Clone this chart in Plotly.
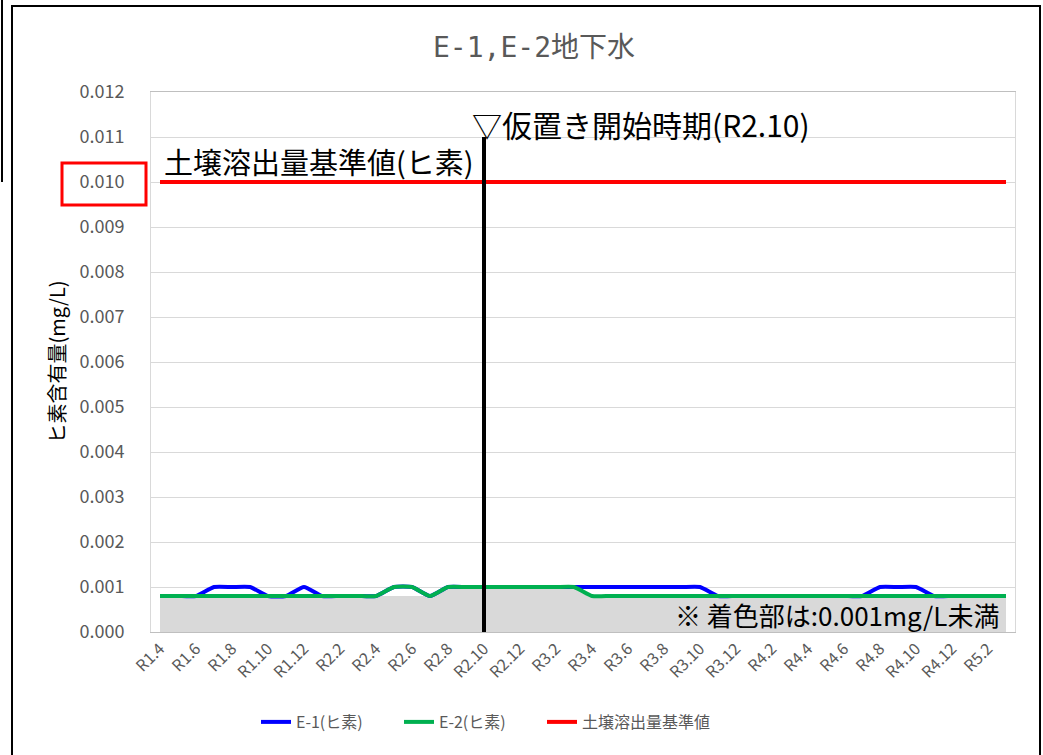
import plotly.graph_objects as go

# Sampling months (Reiwa year.month), one point per month
months = [
    "R1.4", "R1.5", "R1.6", "R1.7", "R1.8", "R1.9", "R1.10", "R1.11", "R1.12",
    "R2.1", "R2.2", "R2.3", "R2.4", "R2.5", "R2.6", "R2.7", "R2.8", "R2.9",
    "R2.10", "R2.11", "R2.12",
    "R3.1", "R3.2", "R3.3", "R3.4", "R3.5", "R3.6", "R3.7", "R3.8", "R3.9",
    "R3.10", "R3.11", "R3.12",
    "R4.1", "R4.2", "R4.3", "R4.4", "R4.5", "R4.6", "R4.7", "R4.8", "R4.9",
    "R4.10", "R4.11", "R4.12",
    "R5.1", "R5.2", "R5.3",
]

# Arsenic content (mg/L)
e1_arsenic = [
    0.0008, 0.0008, 0.0008, 0.001, 0.001, 0.001, 0.0008, 0.0008, 0.001,
    0.0008, 0.0008, 0.0008, 0.0008, 0.001, 0.001, 0.0008, 0.001, 0.001,
    0.001, 0.001, 0.001,
    0.001, 0.001, 0.001, 0.001, 0.001, 0.001, 0.001, 0.001, 0.001,
    0.001, 0.0008, 0.0008,
    0.0008, 0.0008, 0.0008, 0.0008, 0.0008, 0.0008, 0.0008, 0.001, 0.001,
    0.001, 0.0008, 0.0008,
    0.0008, 0.0008, 0.0008,
]
e2_arsenic = [
    0.0008, 0.0008, 0.0008, 0.0008, 0.0008, 0.0008, 0.0008, 0.0008, 0.0008,
    0.0008, 0.0008, 0.0008, 0.0008, 0.001, 0.001, 0.0008, 0.001, 0.001,
    0.001, 0.001, 0.001,
    0.001, 0.001, 0.001, 0.0008, 0.0008, 0.0008, 0.0008, 0.0008, 0.0008,
    0.0008, 0.0008, 0.0008,
    0.0008, 0.0008, 0.0008, 0.0008, 0.0008, 0.0008, 0.0008, 0.0008, 0.0008,
    0.0008, 0.0008, 0.0008,
    0.0008, 0.0008, 0.0008,
]
# Shaded band: results below the 0.001 mg/L reporting limit
below_limit = [
    0.0008, 0.0008, 0.0008, 0.0008, 0.0008, 0.0008, 0.0008, 0.0008, 0.0008,
    0.0008, 0.0008, 0.0008, 0.0008, 0.0008, 0.0008, 0.0008, 0.001, 0.001,
    0.001, 0.001, 0.001,
    0.001, 0.001, 0.001, 0.0008, 0.0008, 0.0008, 0.0008, 0.0008, 0.0008,
    0.0008, 0.0008, 0.0008,
    0.0008, 0.0008, 0.0008, 0.0008, 0.0008, 0.0008, 0.0008, 0.0008, 0.0008,
    0.0008, 0.0008, 0.0008,
    0.0008, 0.0008, 0.0008,
]
standard_value = 0.010          # soil leaching standard for arsenic
storage_start = "R2.10"         # start of temporary storage
y_ticks = [0.000, 0.001, 0.002, 0.003, 0.004, 0.005, 0.006,
           0.007, 0.008, 0.009, 0.010, 0.011, 0.012]
tick_labels = months[::2]

# Figure geometry in pixels
W, H = 1043, 755
PL, PR, PT, PB = 151, 1015, 92, 632


def px(xp):
    return (xp - PL) / (PR - PL)


def py(yp):
    return (PB - yp) / (PB - PT)


JP = "Noto Sans CJK JP"
MONO = "DejaVu Sans Mono"
GREY = "#595959"
idx = list(range(len(months)))
spline = dict(shape="spline", smoothing=0.5)

fig = go.Figure()
fig.add_trace(go.Scatter(
    x=idx, y=below_limit, mode="lines", line=dict(width=0, color="#d9d9d9"),
    fill="tozeroy", fillcolor="#d9d9d9", showlegend=False, hoverinfo="skip"))
fig.add_trace(go.Scatter(
    x=idx, y=e1_arsenic, mode="lines", name="E-1(ヒ素)", legend="legend",
    line=dict(color="#0000ff", width=4, **spline)))
fig.add_trace(go.Scatter(
    x=idx, y=e2_arsenic, mode="lines", name="E-2(ヒ素)", legend="legend2",
    line=dict(color="#00b050", width=4, **spline)))
fig.add_trace(go.Scatter(
    x=[idx[0], idx[-1]], y=[standard_value, standard_value], mode="lines",
    name="土壌溶出量基準値", legend="legend3",
    line=dict(color="#ff0000", width=4)))

start_i = months.index(storage_start)
fig.add_shape(type="line", xref="x", yref="y", x0=start_i, x1=start_i,
              y0=0, y1=0.011, line=dict(color="black", width=4))

# Red frame around the 0.010 tick label
fig.add_shape(type="rect", xref="paper", yref="paper",
              x0=px(62), x1=px(146), y0=py(205), y1=py(163),
              line=dict(color="#ff0000", width=3))
# Outer frame
fig.add_shape(type="rect", xref="paper", yref="paper",
              x0=px(12), x1=px(1040), y0=py(760), y1=py(6),
              line=dict(color="black", width=2))
fig.add_shape(type="line", xref="paper", yref="paper",
              x0=px(2), x1=px(2), y0=py(0), y1=py(182),
              line=dict(color="black", width=2))

fig.add_annotation(
    text=f'<span style="font-family:{MONO}">E-1,E-2</span>地下水',
    xref="paper", yref="paper", x=px(534), y=py(45),
    xanchor="center", yanchor="middle", showarrow=False,
    font=dict(family=JP, size=28, color=GREY))
fig.add_annotation(text="土壌溶出量基準値(ヒ素)", xref="paper", yref="paper",
                   x=px(162), y=py(161), xanchor="left", yanchor="middle",
                   showarrow=False, font=dict(family=JP, size=29, color="black"))
fig.add_annotation(text="▽仮置き開始時期(R2.10)", xref="paper", yref="paper",
                   x=px(470), y=py(124), xanchor="left", yanchor="middle",
                   showarrow=False, font=dict(family=JP, size=30, color="black"))
fig.add_annotation(text="※ 着色部は:0.001mg/L未満", xref="paper", yref="paper",
                   x=px(1001), y=py(614), xanchor="right", yanchor="middle",
                   showarrow=False, font=dict(family=JP, size=26, color="black"))


def legend_at(xp):
    return dict(orientation="h", x=px(xp), y=py(722), xanchor="left",
                yanchor="middle", font=dict(family=JP, size=16, color=GREY),
                bgcolor="rgba(0,0,0,0)")


fig.update_layout(
    width=W, height=H,
    margin=dict(l=PL, r=W - PR, t=PT, b=H - PB),
    paper_bgcolor="white", plot_bgcolor="white",
    showlegend=True,
    legend=legend_at(256),
    legend2=legend_at(399),
    legend3=legend_at(542),
    xaxis=dict(range=[-0.5, len(months) - 0.5], tickmode="array",
               tickvals=idx[::2], ticktext=tick_labels, tickangle=-45,
               tickfont=dict(family=JP, size=16, color=GREY),
               showgrid=False, zeroline=False, showline=True,
               linecolor="#bfbfbf", mirror=True, ticks=""),
    yaxis=dict(range=[0, 0.012], tickmode="array", tickvals=y_ticks,
               tickformat=".3f",
               tickfont=dict(family=JP, size=18, color=GREY),
               showgrid=True, gridcolor="#d9d9d9", zeroline=False,
               showline=True, linecolor="#d9d9d9", mirror=True,
               ticks="", ticklabelstandoff=22,
               title=dict(text="ヒ素含有量(mg/L)", standoff=8,
                          font=dict(family=JP, size=20, color="black"))),
)

fig.write_html("out.html")
